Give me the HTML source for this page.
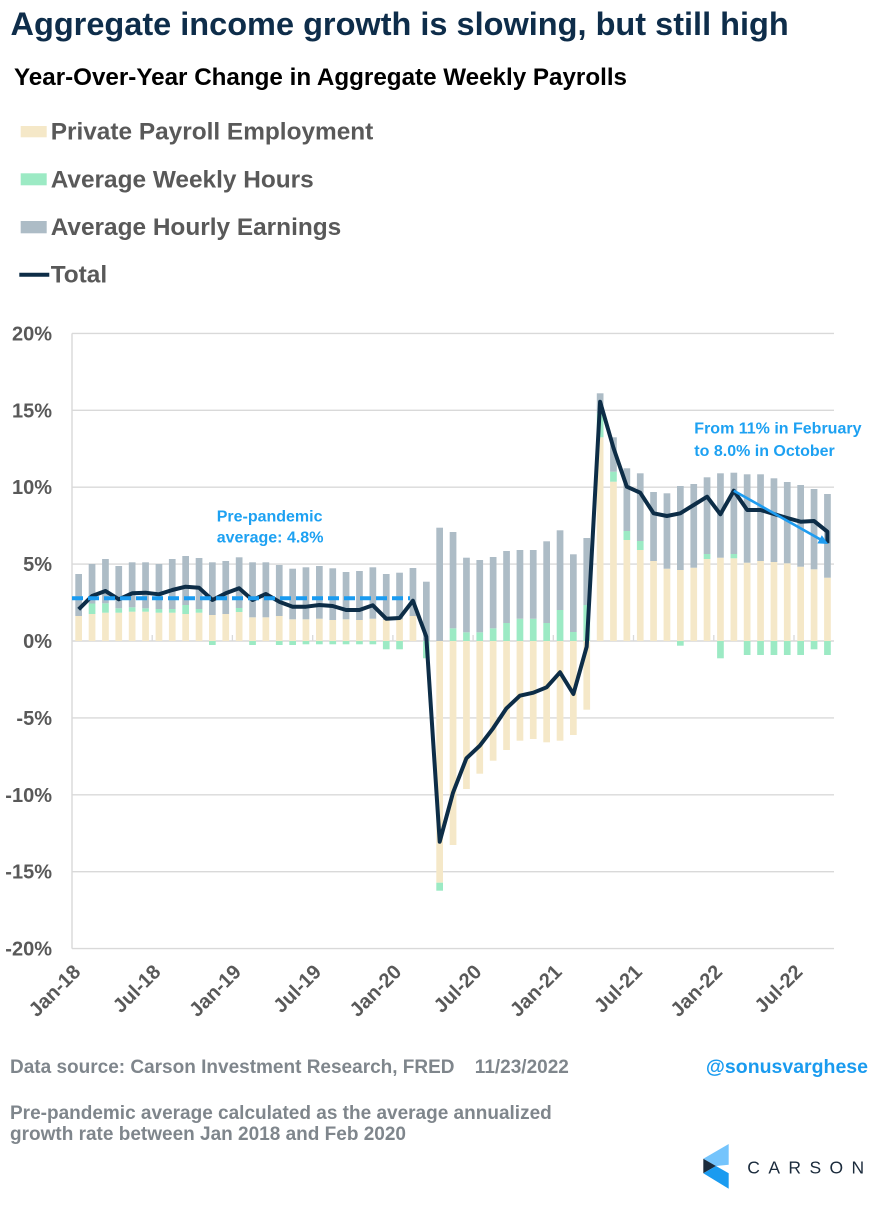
<!DOCTYPE html>
<html>
<head>
<meta charset="utf-8">
<style>
html,body{margin:0;padding:0;background:#fff;}
svg{display:block;}
text{font-family:"Liberation Sans",Arial,sans-serif;}
</style>
</head>
<body>
<svg width="886" height="1210" viewBox="0 0 886 1210" xmlns="http://www.w3.org/2000/svg">
<rect x="0" y="0" width="886" height="1210" fill="#ffffff"/>

<!-- Titles -->
<text x="10.5" y="35" font-size="32.5" font-weight="bold" fill="#0E2D4A">Aggregate income growth is slowing, but still high</text>
<text x="14" y="85" font-size="24.2" font-weight="bold" fill="#000000">Year-Over-Year Change in Aggregate Weekly Payrolls</text>

<!-- Legend -->
<rect x="20.7" y="126" width="26" height="11.3" fill="#F5E8C8"/>
<text x="50.7" y="139.3" font-size="24.4" font-weight="bold" fill="#595959">Private Payroll Employment</text>
<rect x="20.7" y="173.3" width="26" height="12" fill="#9CEAC4"/>
<text x="50.7" y="187.3" font-size="24.4" font-weight="bold" fill="#595959">Average Weekly Hours</text>
<rect x="20.7" y="221" width="26" height="12.3" fill="#ADBCC6"/>
<text x="50.7" y="235" font-size="24.4" font-weight="bold" fill="#595959">Average Hourly Earnings</text>
<line x1="19.3" y1="274.7" x2="49.3" y2="274.7" stroke="#0D2D47" stroke-width="4"/>
<text x="50.7" y="282.7" font-size="24.4" font-weight="bold" fill="#595959">Total</text>

<!-- Gridlines -->
<g stroke="#D9D9D9" stroke-width="1.4">
<line x1="72" y1="333.4" x2="834" y2="333.4"/>
<line x1="72" y1="410.3" x2="834" y2="410.3"/>
<line x1="72" y1="487.2" x2="834" y2="487.2"/>
<line x1="72" y1="564.1" x2="834" y2="564.1"/>
<line x1="72" y1="641" x2="834" y2="641"/>
<line x1="72" y1="717.9" x2="834" y2="717.9"/>
<line x1="72" y1="794.8" x2="834" y2="794.8"/>
<line x1="72" y1="871.7" x2="834" y2="871.7"/>
<line x1="72" y1="948.6" x2="834" y2="948.6"/>
<line x1="72" y1="333.4" x2="72" y2="948.6"/>
</g>
<g stroke="#D9D9D9" stroke-width="1.3">
<line x1="152.2" y1="635" x2="152.2" y2="641"/>
<line x1="232.4" y1="635" x2="232.4" y2="641"/>
<line x1="312.7" y1="635" x2="312.7" y2="641"/>
<line x1="392.9" y1="635" x2="392.9" y2="641"/>
<line x1="473.1" y1="635" x2="473.1" y2="641"/>
<line x1="553.3" y1="635" x2="553.3" y2="641"/>
<line x1="633.5" y1="635" x2="633.5" y2="641"/>
<line x1="713.8" y1="635" x2="713.8" y2="641"/>
<line x1="794" y1="635" x2="794" y2="641"/>
</g>

<!-- Y labels -->
<g font-size="20" font-weight="bold" fill="#595959" text-anchor="end">
<text x="52" y="340.4">20%</text>
<text x="52" y="417.3">15%</text>
<text x="52" y="494.2">10%</text>
<text x="52" y="571.1">5%</text>
<text x="52" y="648">0%</text>
<text x="52" y="724.9">-5%</text>
<text x="52" y="801.8">-10%</text>
<text x="52" y="878.7">-15%</text>
<text x="52" y="955.6">-20%</text>
</g>

<!-- X labels -->
<g font-size="20" font-weight="bold" fill="#595959" text-anchor="end">
<text x="81.7" y="973" transform="rotate(-45 81.7 973)">Jan-18</text>
<text x="161.9" y="973" transform="rotate(-45 161.9 973)">Jul-18</text>
<text x="242.2" y="973" transform="rotate(-45 242.2 973)">Jan-19</text>
<text x="322.4" y="973" transform="rotate(-45 322.4 973)">Jul-19</text>
<text x="402.6" y="973" transform="rotate(-45 402.6 973)">Jan-20</text>
<text x="482.8" y="973" transform="rotate(-45 482.8 973)">Jul-20</text>
<text x="563" y="973" transform="rotate(-45 563 973)">Jan-21</text>
<text x="643.2" y="973" transform="rotate(-45 643.2 973)">Jul-21</text>
<text x="723.5" y="973" transform="rotate(-45 723.5 973)">Jan-22</text>
<text x="803.7" y="973" transform="rotate(-45 803.7 973)">Jul-22</text>
</g>

<!-- Bars: beige -->
<g fill="#F5E8C8">
<rect x="75.3" y="616" width="6.7" height="25"/>
<rect x="88.7" y="614" width="6.7" height="27"/>
<rect x="102.1" y="612.7" width="6.7" height="28.3"/>
<rect x="115.4" y="612.7" width="6.7" height="28.3"/>
<rect x="128.8" y="611.7" width="6.7" height="29.3"/>
<rect x="142.2" y="611.7" width="6.7" height="29.3"/>
<rect x="155.6" y="612.7" width="6.7" height="28.3"/>
<rect x="168.9" y="612.7" width="6.7" height="28.3"/>
<rect x="182.3" y="614" width="6.7" height="27"/>
<rect x="195.7" y="612.7" width="6.7" height="28.3"/>
<rect x="209" y="615" width="6.7" height="26"/>
<rect x="222.4" y="614" width="6.7" height="27"/>
<rect x="235.8" y="612" width="6.7" height="29"/>
<rect x="249.2" y="617.3" width="6.7" height="23.7"/>
<rect x="262.5" y="617.3" width="6.7" height="23.7"/>
<rect x="275.9" y="616" width="6.7" height="25"/>
<rect x="289.3" y="619.3" width="6.7" height="21.7"/>
<rect x="302.6" y="619.3" width="6.7" height="21.7"/>
<rect x="316" y="618.7" width="6.7" height="22.3"/>
<rect x="329.4" y="620" width="6.7" height="21"/>
<rect x="342.7" y="619.3" width="6.7" height="21.7"/>
<rect x="356.1" y="620" width="6.7" height="21"/>
<rect x="369.5" y="618.7" width="6.7" height="22.3"/>
<rect x="382.9" y="620" width="6.7" height="21"/>
<rect x="396.2" y="619.3" width="6.7" height="21.7"/>
<rect x="409.6" y="616" width="6.7" height="25"/>
<rect x="436.3" y="641" width="6.7" height="241.7"/>
<rect x="449.7" y="641" width="6.7" height="204"/>
<rect x="463.1" y="641" width="6.7" height="148"/>
<rect x="476.4" y="641" width="6.7" height="132.7"/>
<rect x="489.8" y="641" width="6.7" height="119.7"/>
<rect x="503.2" y="641" width="6.7" height="109"/>
<rect x="516.6" y="641" width="6.7" height="99.7"/>
<rect x="529.9" y="641" width="6.7" height="98"/>
<rect x="543.3" y="641" width="6.7" height="101.3"/>
<rect x="556.7" y="641" width="6.7" height="99.7"/>
<rect x="570" y="641" width="6.7" height="94"/>
<rect x="583.4" y="641" width="6.7" height="68.7"/>
<rect x="596.8" y="437.3" width="6.7" height="203.7"/>
<rect x="610.1" y="481.7" width="6.7" height="159.3"/>
<rect x="623.5" y="540" width="6.7" height="101"/>
<rect x="636.9" y="550" width="6.7" height="91"/>
<rect x="650.2" y="561" width="6.7" height="80"/>
<rect x="663.6" y="568.7" width="6.7" height="72.3"/>
<rect x="677" y="570" width="6.7" height="71"/>
<rect x="690.4" y="567.7" width="6.7" height="73.3"/>
<rect x="703.7" y="559" width="6.7" height="82"/>
<rect x="717.1" y="557.7" width="6.7" height="83.3"/>
<rect x="730.5" y="558.3" width="6.7" height="82.7"/>
<rect x="743.8" y="562.7" width="6.7" height="78.3"/>
<rect x="757.2" y="561" width="6.7" height="80"/>
<rect x="770.6" y="562" width="6.7" height="79"/>
<rect x="783.9" y="563.3" width="6.7" height="77.7"/>
<rect x="797.3" y="566.7" width="6.7" height="74.3"/>
<rect x="810.7" y="569.3" width="6.7" height="71.7"/>
<rect x="824.1" y="577.7" width="6.7" height="63.3"/>
</g>

<!-- Bars: green -->
<g fill="#9CEAC4">
<rect x="88.7" y="603.5" width="6.7" height="10.5"/>
<rect x="102.1" y="603.3" width="6.7" height="9.4"/>
<rect x="115.4" y="608.3" width="6.7" height="4.4"/>
<rect x="128.8" y="607.3" width="6.7" height="4.4"/>
<rect x="142.2" y="608.3" width="6.7" height="3.4"/>
<rect x="155.6" y="609" width="6.7" height="3.7"/>
<rect x="168.9" y="609" width="6.7" height="3.7"/>
<rect x="182.3" y="605" width="6.7" height="9"/>
<rect x="195.7" y="609" width="6.7" height="3.7"/>
<rect x="209" y="641" width="6.7" height="4"/>
<rect x="235.8" y="608" width="6.7" height="4"/>
<rect x="249.2" y="641" width="6.7" height="4"/>
<rect x="275.9" y="641" width="6.7" height="4"/>
<rect x="289.3" y="641" width="6.7" height="4"/>
<rect x="302.6" y="641" width="6.7" height="3.3"/>
<rect x="316" y="641" width="6.7" height="3.3"/>
<rect x="329.4" y="641" width="6.7" height="3.3"/>
<rect x="342.7" y="641" width="6.7" height="3.3"/>
<rect x="356.1" y="641" width="6.7" height="3.3"/>
<rect x="369.5" y="641" width="6.7" height="3.3"/>
<rect x="382.9" y="641" width="6.7" height="8.3"/>
<rect x="396.2" y="641" width="6.7" height="8.3"/>
<rect x="423" y="641" width="6.7" height="17.3"/>
<rect x="436.3" y="882.7" width="6.7" height="8"/>
<rect x="449.7" y="628.3" width="6.7" height="12.7"/>
<rect x="463.1" y="632.3" width="6.7" height="8.7"/>
<rect x="476.4" y="632.3" width="6.7" height="8.7"/>
<rect x="489.8" y="628.3" width="6.7" height="12.7"/>
<rect x="503.2" y="623" width="6.7" height="18"/>
<rect x="516.6" y="618.7" width="6.7" height="22.3"/>
<rect x="529.9" y="618.7" width="6.7" height="22.3"/>
<rect x="543.3" y="623" width="6.7" height="18"/>
<rect x="556.7" y="610" width="6.7" height="31"/>
<rect x="570" y="632" width="6.7" height="9"/>
<rect x="583.4" y="605" width="6.7" height="36"/>
<rect x="596.8" y="413.3" width="6.7" height="24"/>
<rect x="610.1" y="471.7" width="6.7" height="10"/>
<rect x="623.5" y="531" width="6.7" height="9"/>
<rect x="636.9" y="541" width="6.7" height="9"/>
<rect x="677" y="641" width="6.7" height="4.7"/>
<rect x="703.7" y="554" width="6.7" height="5"/>
<rect x="717.1" y="641" width="6.7" height="17.3"/>
<rect x="730.5" y="554" width="6.7" height="4.3"/>
<rect x="743.8" y="641" width="6.7" height="14"/>
<rect x="757.2" y="641" width="6.7" height="14"/>
<rect x="770.6" y="641" width="6.7" height="14"/>
<rect x="783.9" y="641" width="6.7" height="14"/>
<rect x="797.3" y="641" width="6.7" height="14"/>
<rect x="810.7" y="641" width="6.7" height="8.3"/>
<rect x="824.1" y="641" width="6.7" height="14"/>
</g>

<!-- Bars: grey -->
<g fill="#ADBCC6">
<rect x="75.3" y="574" width="6.7" height="42"/>
<rect x="88.7" y="564" width="6.7" height="39.5"/>
<rect x="102.1" y="559" width="6.7" height="44.3"/>
<rect x="115.4" y="566" width="6.7" height="42.3"/>
<rect x="128.8" y="562.3" width="6.7" height="45"/>
<rect x="142.2" y="562.3" width="6.7" height="46"/>
<rect x="155.6" y="564" width="6.7" height="45"/>
<rect x="168.9" y="559" width="6.7" height="50"/>
<rect x="182.3" y="556" width="6.7" height="49"/>
<rect x="195.7" y="558" width="6.7" height="51"/>
<rect x="209" y="562.3" width="6.7" height="52.7"/>
<rect x="222.4" y="561" width="6.7" height="53"/>
<rect x="235.8" y="557.3" width="6.7" height="50.7"/>
<rect x="249.2" y="562.3" width="6.7" height="55"/>
<rect x="262.5" y="562.3" width="6.7" height="55"/>
<rect x="275.9" y="565" width="6.7" height="51"/>
<rect x="289.3" y="568.7" width="6.7" height="50.6"/>
<rect x="302.6" y="567.3" width="6.7" height="52"/>
<rect x="316" y="566" width="6.7" height="52.7"/>
<rect x="329.4" y="568.3" width="6.7" height="51.7"/>
<rect x="342.7" y="572" width="6.7" height="47.3"/>
<rect x="356.1" y="571" width="6.7" height="49"/>
<rect x="369.5" y="567.3" width="6.7" height="51.4"/>
<rect x="382.9" y="574" width="6.7" height="46"/>
<rect x="396.2" y="572.7" width="6.7" height="46.6"/>
<rect x="409.6" y="568" width="6.7" height="48"/>
<rect x="423" y="581.7" width="6.7" height="59.3"/>
<rect x="436.3" y="527.7" width="6.7" height="113.3"/>
<rect x="449.7" y="532" width="6.7" height="96.3"/>
<rect x="463.1" y="557.7" width="6.7" height="74.6"/>
<rect x="476.4" y="560" width="6.7" height="72.3"/>
<rect x="489.8" y="557" width="6.7" height="71.3"/>
<rect x="503.2" y="551" width="6.7" height="72"/>
<rect x="516.6" y="550" width="6.7" height="68.7"/>
<rect x="529.9" y="550" width="6.7" height="68.7"/>
<rect x="543.3" y="541.3" width="6.7" height="81.7"/>
<rect x="556.7" y="530.3" width="6.7" height="79.7"/>
<rect x="570" y="554.3" width="6.7" height="77.7"/>
<rect x="583.4" y="538" width="6.7" height="67"/>
<rect x="596.8" y="393.3" width="6.7" height="20"/>
<rect x="610.1" y="437.3" width="6.7" height="34.4"/>
<rect x="623.5" y="468.3" width="6.7" height="62.7"/>
<rect x="636.9" y="473.3" width="6.7" height="67.7"/>
<rect x="650.2" y="492" width="6.7" height="69"/>
<rect x="663.6" y="493.3" width="6.7" height="75.4"/>
<rect x="677" y="486" width="6.7" height="84"/>
<rect x="690.4" y="484" width="6.7" height="83.7"/>
<rect x="703.7" y="477.3" width="6.7" height="76.7"/>
<rect x="717.1" y="473.3" width="6.7" height="84.4"/>
<rect x="730.5" y="472.7" width="6.7" height="81.3"/>
<rect x="743.8" y="474.3" width="6.7" height="88.4"/>
<rect x="757.2" y="474.3" width="6.7" height="86.7"/>
<rect x="770.6" y="478.3" width="6.7" height="83.7"/>
<rect x="783.9" y="482" width="6.7" height="81.3"/>
<rect x="797.3" y="485" width="6.7" height="81.7"/>
<rect x="810.7" y="489" width="6.7" height="80.3"/>
<rect x="824.1" y="494" width="6.7" height="83.7"/>
</g>

<!-- Total line -->
<polyline fill="none" stroke="#0D2D47" stroke-width="4" stroke-linejoin="round" stroke-linecap="butt"
points="78.7,609.3 92,596 105.4,591 118.8,599.3 132.2,593.3 145.5,592.7 158.9,594.3 172.3,590 185.6,586.7 199,587.7 212.4,600 225.7,593.3 239.1,588.3 252.5,600 265.9,594 279.2,601.7 292.6,606.7 306,606.7 319.3,605 332.7,606 346.1,610 359.4,610 372.8,605.3 386.2,618.7 399.6,618 412.9,600.7 426.3,636.7 439.7,841.7 453,792.7 466.4,758.3 479.8,745.7 493.1,728.3 506.5,708.3 519.9,695.7 533.3,692.7 546.6,687.3 560,672.3 573.4,694 586.7,646.7 600.1,401.7 613.5,448 626.8,486.7 640.2,492.7 653.6,513.3 666.9,516 680.3,513.3 693.7,505 707.1,496.7 720.4,514.3 733.8,490.7 747.2,510 760.5,510 773.9,514 787.3,518 800.6,521.7 814,521 827.4,531.7 827.4,543.3"/>

<!-- Pre-pandemic dashed average -->
<line x1="72" y1="598.3" x2="410" y2="598.3" stroke="#1A9BF0" stroke-width="4" stroke-dasharray="11 5"/>

<!-- Arrow -->
<line x1="733.8" y1="490.7" x2="820.5" y2="539.5" stroke="#1E9CF0" stroke-width="2.6"/>
<polygon points="828.3,544 817.4,543.4 821.8,535.2" fill="#1E9CF0"/>

<!-- Annotations -->
<g font-size="16" font-weight="bold" fill="#1DA1F2">
<text x="216.7" y="521.7">Pre-pandemic</text>
<text x="216.7" y="542.7">average: 4.8%</text>
<text x="694.3" y="433.3">From 11% in February</text>
<text x="694.3" y="456">to 8.0% in October</text>
</g>

<!-- Footer -->
<g font-size="19" font-weight="bold" fill="#7F868C">
<text x="10" y="1073">Data source: Carson Investment Research, FRED</text>
<text x="474.8" y="1073">11/23/2022</text>
<text x="10" y="1119">Pre-pandemic average calculated as the average annualized</text>
<text x="10" y="1140">growth rate between Jan 2018 and Feb 2020</text>
</g>
<text x="868" y="1073" font-size="19.5" font-weight="bold" fill="#1A9BEF" text-anchor="end">@sonusvarghese</text>

<!-- Carson logo -->
<polygon points="703.3,1158.7 728.7,1144 728.7,1164.7 716,1166" fill="#74C4FC"/>
<polygon points="703.3,1158.7 716,1166 703.3,1173.3" fill="#1B2B3C"/>
<polygon points="703.3,1173.3 716,1166 728.7,1173.3 728.7,1188.7" fill="#1A9BF0"/>
<text x="747.3" y="1173.3" font-size="17.5" fill="#1B2B3C" letter-spacing="8.4">CARSON</text>
</svg>
</body>
</html>
